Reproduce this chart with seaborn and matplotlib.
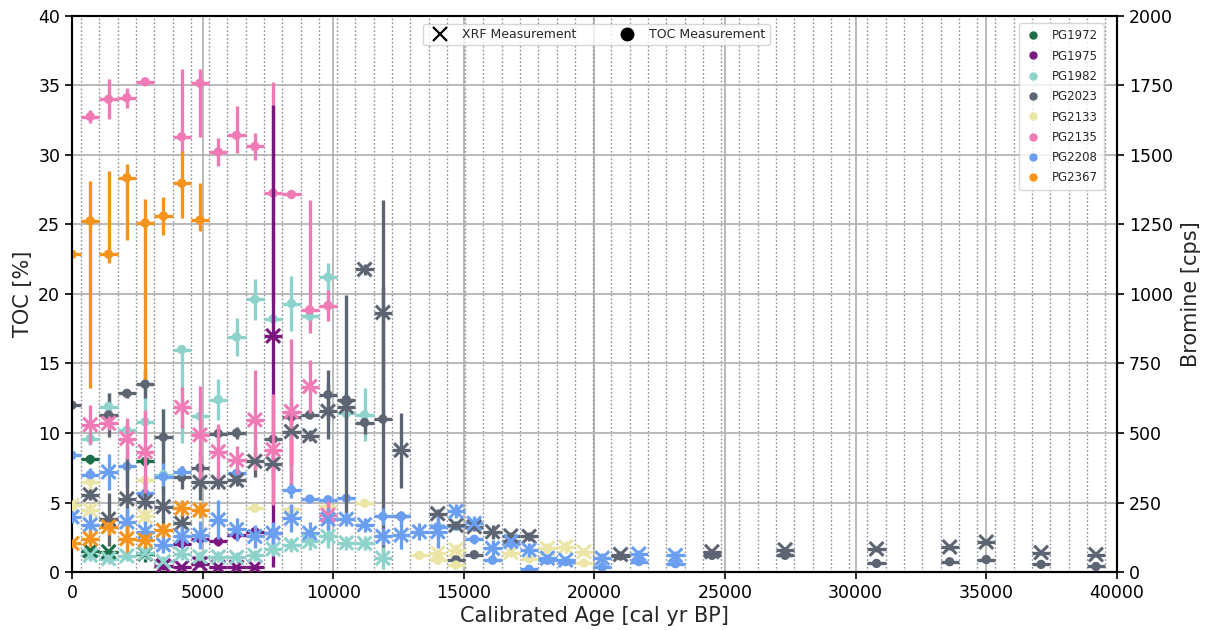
import numpy as np
import pandas as pd
import matplotlib
matplotlib.use("Agg")
import matplotlib.pyplot as plt
from matplotlib.lines import Line2D
from matplotlib.ticker import MultipleLocator, FixedLocator
import seaborn as sns

CORES = ["PG1972", "PG1975", "PG1982", "PG2023", "PG2133", "PG2135", "PG2208", "PG2367"]
COLORS = ["#1b6e47", "#7a177e", "#8ed3cb", "#5e6572", "#ebe5a6", "#f07ab6", "#6a9ef0", "#f5931c"]

# TOC [%] per core: age bin centre, value, lower / upper error
TOC_AGE = {
    "PG1972": [700, 2800],
    "PG1975": [4200, 4900, 5600, 6300, 7000, 7700],
    "PG1982": [700, 1400, 2100, 2800, 3500, 4200, 4900, 5600, 6300, 7000, 7700, 8400, 9100, 9800, 10500, 11200],
    "PG2023": [0, 1400, 2100, 2800, 3500, 4200, 4900, 5600, 6300, 7700, 8400, 9100, 9800, 10500, 11200, 11900,
               12600, 14700, 15400, 21000, 24500, 27300, 30800, 33600, 35000, 37100, 39200],
    "PG2133": [700, 2800, 7000, 8400, 9800, 11200, 13300, 14000, 14700, 16100, 17500, 19600],
    "PG2135": [700, 1400, 2100, 2800, 4200, 4900, 5600, 6300, 7000, 7700, 8400, 9100, 9800],
    "PG2208": [0, 700, 2100, 2800, 3500, 4200, 6300, 8400, 9100, 9800, 10500, 11900, 12600, 14000, 14700,
               15400, 16100, 16800, 17500, 18200, 18900, 20300, 21700, 23100],
    "PG2367": [0, 700, 1400, 2100, 2800, 3500, 4200, 4900],
}
TOC_VAL = {
    "PG1972": [8.1, 7.95],
    "PG1975": [2.05, 2.4, 2.2, 2.65, 2.9, 2.8],
    "PG1982": [9.6, 11.9, 10.2, 10.8, 7.0, 16.0, 11.2, 12.4, 16.9, 19.6, 18.2, 19.3, 18.4, 21.2, 11.4, 11.3],
    "PG2023": [12.0, 11.3, 12.85, 13.5, 9.7, 6.8, 7.5, 9.95, 10.0, 9.55, 11.15, 11.3, 12.75, 12.4, 10.75, 11.0,
               4.0, 0.9, 1.25, 1.15, 1.2, 1.2, 0.62, 0.74, 0.9, 0.55, 0.4],
    "PG2133": [6.5, 6.6, 4.6, 4.5, 4.75, 4.95, 1.2, 0.85, 0.5, 0.9, 0.95, 0.65],
    "PG2135": [32.75, 34.0, 34.1, 35.25, 31.3, 35.15, 30.2, 31.4, 30.6, 27.25, 27.15, 18.85, 19.15],
    "PG2208": [8.4, 7.0, 7.6, 5.65, 6.85, 7.2, 7.1, 5.9, 5.25, 5.2, 5.3, 4.0, 4.0, 3.25, 3.3,
               2.35, 0.85, 2.05, 0.2, 0.85, 0.75, 0.35, 0.75, 0.6],
    "PG2367": [22.85, 25.25, 22.85, 28.35, 25.1, 25.6, 27.95, 25.3],
}
TOC_LO = {
    "PG1972": [0.3, 0.3],
    "PG1975": [0.3, 0.3, 0.3, 0.3, 0.3, 0.3],
    "PG1982": [0.5, 1.0, 0.6, 3.3, 4.7, 6.7, 0.6, 1.5, 1.4, 1.5, 0.3, 2.0, 0.5, 1.9, 4.8, 1.9],
    "PG2023": [0.1, 1.6, 0.3, 1.0, 2.0, 0.8, 1.2, 0.5, 0.4, 0.3, 5.0, 0.3, 1.8, 0.5, 0.8, 9.6,
               0.3, 0.2, 0.2, 0.2, 0.2, 0.2, 0.15, 0.15, 0.15, 0.15, 0.15],
    "PG2133": [0.6, 0.5, 0.3, 0.3, 0.3, 0.3, 0.2, 0.3, 0.3, 0.2, 0.2, 0.2],
    "PG2135": [0.45, 1.45, 0.7, 0.1, 1.3, 3.85, 1.0, 1.3, 1.0, 8.0, 0.1, 1.65, 1.1],
    "PG2208": [0.3, 0.5, 1.5, 0.8, 1.0, 0.4, 0.3, 0.6, 0.2, 0.2, 0.2, 0.6, 0.4, 0.8, 0.3,
               0.3, 0.2, 0.3, 0.2, 0.3, 0.2, 0.2, 0.2, 0.2],
    "PG2367": [0.1, 12.05, 0.6, 4.5, 11.3, 1.4, 2.5, 0.8],
}
TOC_HI = {
    "PG1972": [0.3, 0.3],
    "PG1975": [0.3, 0.3, 0.3, 0.3, 0.3, 0.3],
    "PG1982": [0.5, 1.0, 0.6, 3.3, 4.7, 0.3, 0.6, 1.5, 1.4, 1.5, 0.3, 2.0, 0.5, 1.0, 0.5, 1.9],
    "PG2023": [0.1, 1.6, 0.3, 1.0, 2.0, 0.8, 1.2, 0.5, 0.4, 0.3, 0.5, 0.3, 1.8, 0.5, 0.8, 9.6,
               0.3, 0.2, 0.2, 0.2, 0.2, 0.2, 0.15, 0.15, 0.15, 0.15, 0.15],
    "PG2133": [0.6, 0.5, 0.3, 0.3, 0.3, 0.3, 0.2, 0.3, 0.3, 0.2, 0.2, 0.2],
    "PG2135": [0.45, 1.45, 0.7, 0.1, 4.85, 1.0, 1.0, 2.1, 1.0, 8.0, 0.1, 7.9, 1.1],
    "PG2208": [0.3, 0.5, 1.5, 0.8, 1.0, 0.4, 0.3, 0.6, 0.2, 0.2, 0.2, 0.6, 0.4, 0.8, 0.3,
               0.3, 0.2, 0.3, 0.2, 0.3, 0.2, 0.2, 0.2, 0.2],
    "PG2367": [0.1, 2.85, 6.0, 1.0, 1.7, 1.4, 2.3, 2.7],
}

# XRF bromine [cps] per core: age bin centre, value, symmetric error
XRF_AGE = {
    "PG1972": [700, 1400, 2800],
    "PG1975": [3500, 4200, 4900, 5600, 6300, 7000, 7700],
    "PG1982": [700, 1400, 2100, 2800, 3500, 4200, 4900, 5600, 6300, 7000, 7700, 8400, 9100, 9800, 10500, 11200, 11900],
    "PG2023": [700, 1400, 2100, 2800, 3500, 4200, 4900, 5600, 6300, 7000, 7700, 8400, 9100, 9800, 10500, 11200,
               11900, 12600, 14000, 14700, 15400, 16100, 16800, 17500, 21000, 24500, 27300, 30800, 33600,
               35000, 37100, 39200],
    "PG2133": [0, 700, 2800, 14000, 14700, 16800, 18200, 18900, 19600],
    "PG2135": [700, 1400, 2100, 2800, 4200, 4900, 5600, 6300, 7000, 7700, 8400, 9100, 9800],
    "PG2208": [0, 700, 1400, 2100, 2800, 3500, 4200, 4900, 5600, 6300, 7000, 7700, 8400, 9100, 9800, 10500,
               11200, 11900, 12600, 13300, 14000, 14700, 15400, 16100, 16800, 17500, 18200, 18900, 20300,
               21700, 23100],
    "PG2367": [0, 700, 1400, 2100, 2800, 3500, 4200, 4900],
}
XRF_VAL = {
    "PG1972": [77, 73, 65],
    "PG1975": [22, 17, 29, 17, 17, 17, 849],
    "PG1982": [60, 48, 58, 68, 38, 65, 55, 55, 53, 60, 83, 98, 110, 128, 105, 103, 50],
    "PG2023": [278, 190, 263, 253, 235, 175, 323, 323, 330, 398, 390, 505, 490, 578, 595, 1088,
               933, 438, 210, 168, 163, 145, 130, 128, 63, 73, 80, 83, 90, 108, 70, 63],
    "PG2133": [240, 223, 200, 68, 80, 70, 85, 90, 73],
    "PG2135": [530, 535, 480, 433, 592, 493, 433, 403, 547, 440, 577, 667, 205],
    "PG2208": [198, 170, 360, 180, 145, 98, 128, 133, 188, 153, 128, 140, 193, 140, 190, 190,
               170, 128, 133, 145, 145, 218, 175, 85, 110, 80, 50, 43, 50, 65, 60],
    "PG2367": [103, 120, 163, 120, 115, 150, 230, 223],
}
XRF_ERR = {
    "PG1972": [10, 10, 30],
    "PG1975": [15, 10, 12, 10, 10, 10, 830],
    "PG1982": [20, 20, 20, 20, 20, 20, 20, 20, 20, 20, 25, 25, 30, 40, 25, 25, 40],
    "PG2023": [20, 95, 150, 75, 75, 35, 65, 25, 20, 55, 55, 120, 20, 100, 400, 20,
               405, 135, 15, 15, 15, 25, 15, 15, 10, 10, 10, 10, 10, 10, 10, 10],
    "PG2133": [20, 25, 25, 15, 20, 15, 20, 20, 15],
    "PG2135": [70, 25, 75, 150, 75, 175, 100, 50, 180, 200, 260, 95, 50],
    "PG2208": [20, 40, 65, 50, 40, 30, 40, 50, 70, 40, 40, 40, 50, 40, 40, 25,
               25, 30, 50, 30, 60, 25, 25, 30, 30, 25, 15, 15, 20, 15, 15],
    "PG2367": [15, 30, 30, 50, 30, 25, 30, 30],
}
AGE_HALF_BIN = 350

sns.set_style("ticks")
plt.rcParams["font.family"] = ["DejaVu Sans"]

fig = plt.figure(figsize=(12.1, 6.3), dpi=100)
ax = fig.add_axes([0.0595, 0.092, 0.8635, 0.883])
ax2 = ax.twinx()

palette = dict(zip(CORES, COLORS))

toc_rows, xrf_rows = [], []
for core in CORES:
    for a, v in zip(TOC_AGE[core], TOC_VAL[core]):
        toc_rows.append((core, a, v))
    for a, v in zip(XRF_AGE[core], XRF_VAL[core]):
        xrf_rows.append((core, a, v))
toc_df = pd.DataFrame(toc_rows, columns=["core", "age", "toc"])
xrf_df = pd.DataFrame(xrf_rows, columns=["core", "age", "br"])

for core in CORES:
    c = palette[core]
    ax.errorbar(TOC_AGE[core], TOC_VAL[core], yerr=[TOC_LO[core], TOC_HI[core]],
                xerr=AGE_HALF_BIN, fmt="none", ecolor=c, elinewidth=2.4, capsize=0, zorder=3)
    ax2.errorbar(XRF_AGE[core], XRF_VAL[core], yerr=XRF_ERR[core],
                 xerr=AGE_HALF_BIN, fmt="none", ecolor=c, elinewidth=2.4, capsize=0, zorder=3)

sns.scatterplot(data=toc_df, x="age", y="toc", hue="core", palette=palette, hue_order=CORES,
                marker="o", s=45, edgecolor="none", ax=ax, legend=False, zorder=4)
sns.scatterplot(data=xrf_df, x="age", y="br", hue="core", palette=palette, hue_order=CORES,
                marker="x", s=100, linewidth=2.2, ax=ax2, legend=False, zorder=4)

ax.set_xlim(0, 40000)
ax.set_ylim(0, 40)
ax2.set_ylim(0, 2000)
ax.xaxis.set_major_locator(MultipleLocator(5000))
ax.yaxis.set_major_locator(MultipleLocator(5))
ax2.yaxis.set_major_locator(MultipleLocator(250))

edges = np.arange(AGE_HALF_BIN, 40000, 2 * AGE_HALF_BIN)
ax.xaxis.set_minor_locator(FixedLocator(edges))
ax.tick_params(axis="x", which="minor", length=0)
ax.grid(which="major", axis="both", color="#b4b4b4", linewidth=1.3, zorder=0)
ax.grid(which="minor", axis="x", color="#8a8f99", linestyle=(0, (1.2, 1.6)), linewidth=1.0, zorder=0)
ax.set_axisbelow(True)

ax.tick_params(axis="both", which="major", labelsize=12.5, length=5, width=1.2, colors="black")
ax2.tick_params(axis="y", which="major", labelsize=12.5, length=5, width=1.2, colors="black")
for spine in list(ax.spines.values()) + list(ax2.spines.values()):
    spine.set_color("black")
    spine.set_linewidth(1.5)
ax.spines["top"].set_color("#555555")

ax.set_xlabel("Calibrated Age [cal yr BP]", fontsize=15, labelpad=3)
ax.set_ylabel("TOC [%]", fontsize=15, labelpad=4)
ax2.set_ylabel("Bromine [cps]", fontsize=15, labelpad=6)

kind_handles = [
    Line2D([], [], marker="x", color="black", linestyle="none", markersize=10, markeredgewidth=1.6),
    Line2D([], [], marker="o", color="black", linestyle="none", markersize=9),
]
leg1 = ax2.legend(kind_handles, ["XRF Measurement", "TOC Measurement"], loc="upper center",
                  bbox_to_anchor=(0.502, 0.997), ncol=2, fontsize=9, frameon=True,
                  handletextpad=0.8, columnspacing=3.0, borderpad=0.35, fancybox=True)
leg1.get_frame().set_edgecolor("#cccccc")
ax2.add_artist(leg1)

core_handles = [Line2D([], [], marker="o", color=palette[c], linestyle="none", markersize=5)
                for c in CORES]
leg2 = ax2.legend(core_handles, CORES, loc="upper right", bbox_to_anchor=(0.993, 0.997),
                  fontsize=8.5, frameon=True, labelspacing=0.62, handletextpad=0.9,
                  handlelength=1.4, borderpad=0.5, fancybox=True)
leg2.get_frame().set_edgecolor("#cccccc")

fig.savefig("out.png", dpi=100)
